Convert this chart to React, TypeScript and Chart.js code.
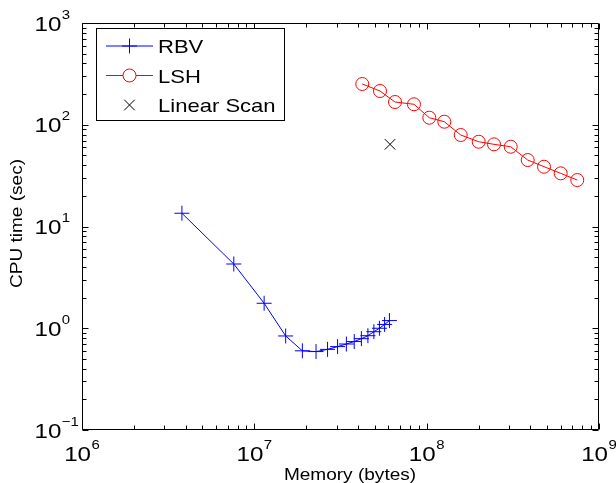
import React, { useEffect, useRef } from "react";
import { Chart, registerables } from "chart.js";

Chart.register(...registerables);

// ---- Data ----
const rbvMemory = [3.8e6, 7.6e6, 1.14e7, 1.52e7, 1.9e7, 2.28e7, 2.66e7, 3.04e7, 3.42e7, 3.8e7, 4.18e7, 4.56e7, 4.94e7, 5.32e7, 5.7e7, 6.08e7];
const rbvTime = [13.5, 4.28, 1.76, 0.84, 0.6, 0.59, 0.62, 0.66, 0.7, 0.74, 0.79, 0.845, 0.925, 1.0, 1.09, 1.19];

const lshMemory = [4.23e7, 5.36e7, 6.55e7, 8.44e7, 1.036e8, 1.266e8, 1.576e8, 2.004e8, 2.459e8, 3.074e8, 3.857e8, 4.797e8, 5.996e8, 7.48e8];
const lshTime = [251.6, 214.6, 167.3, 158.9, 117.3, 107.1, 79.3, 68.1, 64.2, 60.8, 45.0, 38.7, 33.3, 28.6];

const linearMemory = [6.13e7];
const linearTime = [64.2];

const seriesNames = ["RBV", "LSH", "Linear Scan"];
const xTickExponents = ["6", "7", "8", "9"];
const yTickExponents = ["\u22121", "0", "1", "2", "3"];
const xTitle = "Memory (bytes)";
const yTitle = "CPU time (sec)";

const X_MIN = 1e6;
const X_MAX = 1e9;
const Y_MIN = 1e-1;
const Y_MAX = 1e3;

const FONT = '"Liberation Sans", Arial, Helvetica, sans-serif';

function drawText(ctx: CanvasRenderingContext2D, text: string, x: number, y: number, size: number, sx: number, align: CanvasTextAlign = "left") {
  ctx.save();
  ctx.translate(x, y);
  ctx.scale(sx, 1);
  ctx.font = `${size}px ${FONT}`;
  ctx.textAlign = align;
  ctx.textBaseline = "alphabetic";
  ctx.fillStyle = "#000";
  ctx.fillText(text, 0, 0);
  ctx.restore();
}

function measure(ctx: CanvasRenderingContext2D, text: string, size: number, sx: number) {
  ctx.save();
  ctx.font = `${size}px ${FONT}`;
  const w = ctx.measureText(text).width * sx;
  ctx.restore();
  return w;
}

const MAIN_SIZE = 21;
const EXP_SIZE = 13;
const TICK_SX = 1.15;

function drawPower(ctx: CanvasRenderingContext2D, exp: string, leftX: number, baseline: number) {
  const wMain = measure(ctx, "10", MAIN_SIZE, TICK_SX);
  drawText(ctx, "10", leftX, baseline, MAIN_SIZE, TICK_SX);
  drawText(ctx, exp, leftX + wMain + 0.5, baseline - 12, EXP_SIZE, TICK_SX);
}

function powerWidth(ctx: CanvasRenderingContext2D, exp: string) {
  return measure(ctx, "10", MAIN_SIZE, TICK_SX) + 0.5 + measure(ctx, exp, EXP_SIZE, TICK_SX);
}

const matlabAxes = {
  id: "matlabAxes",
  afterDatasetsDraw(chart: any) {
    const { ctx, chartArea, scales } = chart;
    const { left, right, top, bottom } = chartArea;
    const xs = scales.x;
    const ys = scales.y;
    ctx.save();
    ctx.strokeStyle = "#000";
    ctx.lineWidth = 1;
    const L = Math.round(left) + 0.5;
    const R = Math.round(right) - 0.5;
    const T = Math.round(top) + 0.5;
    const B = Math.round(bottom) - 0.5;
    ctx.beginPath();
    ctx.rect(L, T, R - L, B - T);
    ctx.stroke();

    ctx.beginPath();
    // x ticks
    for (let d = 6; d <= 9; d++) {
      for (let m = 1; m <= 9; m++) {
        const v = m * Math.pow(10, d);
        if (v < X_MIN || v > X_MAX) continue;
        if (d === 9 && m > 1) continue;
        const px = Math.round(xs.getPixelForValue(v)) + 0.5;
        const len = m === 1 ? 6 : 4;
        ctx.moveTo(px, B);
        ctx.lineTo(px, B - len);
        ctx.moveTo(px, T);
        ctx.lineTo(px, T + len);
      }
    }
    // y ticks
    for (let d = -1; d <= 3; d++) {
      for (let m = 1; m <= 9; m++) {
        const v = m * Math.pow(10, d);
        if (v < Y_MIN * 0.999 || v > Y_MAX * 1.001) continue;
        if (d === 3 && m > 1) continue;
        const py = Math.round(ys.getPixelForValue(v)) + 0.5;
        const len = m === 1 ? 6 : 4;
        ctx.moveTo(L, py);
        ctx.lineTo(L + len, py);
        ctx.moveTo(R, py);
        ctx.lineTo(R - len, py);
      }
    }
    ctx.stroke();
    ctx.restore();
  },
  afterDraw(chart: any) {
    const { ctx, chartArea, scales } = chart;
    const { left, right, top, bottom } = chartArea;
    const xs = scales.x;
    const ys = scales.y;

    // x tick labels
    xTickExponents.forEach((e) => {
      const v = Math.pow(10, parseInt(e, 10));
      const px = xs.getPixelForValue(v);
      const w = powerWidth(ctx, e);
      drawPower(ctx, e, px - w / 2, 461);
    });
    // y tick labels
    yTickExponents.forEach((e) => {
      const v = Math.pow(10, parseInt(e.replace("\u2212", "-"), 10));
      const py = ys.getPixelForValue(v);
      drawPower(ctx, e, 34.5, py + 7.5);
    });

    // axis titles
    drawText(ctx, xTitle, 350, 480, 17, 1.12, "center");
    ctx.save();
    ctx.translate(22, (top + bottom) / 2 - 3);
    ctx.rotate(-Math.PI / 2);
    drawText(ctx, yTitle, 0, 0, 17, 1.12, "center");
    ctx.restore();

    // legend
    ctx.save();
    const bx = 96.5, by = 28.5, bw = 188, bh = 92;
    ctx.fillStyle = "#fff";
    ctx.fillRect(bx, by, bw, bh);
    ctx.strokeStyle = "#000";
    ctx.lineWidth = 1;
    ctx.strokeRect(bx, by, bw, bh);
    const rows = [46, 75.5, 105];
    const lx0 = 106, lx1 = 153, mx = 129.5, tx = 158;
    // RBV
    ctx.strokeStyle = "#0000ff";
    ctx.beginPath();
    ctx.moveTo(lx0, rows[0]);
    ctx.lineTo(lx1, rows[0]);
    ctx.moveTo(mx - 7.5, rows[0]);
    ctx.lineTo(mx + 7.5, rows[0]);
    ctx.moveTo(mx, rows[0] - 7.5);
    ctx.lineTo(mx, rows[0] + 7.5);
    ctx.stroke();
    // LSH
    ctx.strokeStyle = "#ff0000";
    ctx.beginPath();
    ctx.moveTo(lx0, rows[1]);
    ctx.lineTo(mx - 6.5, rows[1]);
    ctx.moveTo(mx + 6.5, rows[1]);
    ctx.lineTo(lx1, rows[1]);
    ctx.stroke();
    ctx.beginPath();
    ctx.arc(mx, rows[1], 6.5, 0, Math.PI * 2);
    ctx.stroke();
    // Linear scan
    ctx.strokeStyle = "#000";
    ctx.beginPath();
    const k = 5.3;
    ctx.moveTo(mx - k, rows[2] - k);
    ctx.lineTo(mx + k, rows[2] + k);
    ctx.moveTo(mx - k, rows[2] + k);
    ctx.lineTo(mx + k, rows[2] - k);
    ctx.stroke();
    ctx.restore();
    seriesNames.forEach((n, i) => drawText(ctx, n, tx, rows[i] + 7, 19, 1.16));
  },
};

export default function App() {
  const canvasRef = useRef<HTMLCanvasElement | null>(null);

  useEffect(() => {
    if (!canvasRef.current) return;
    const toXY = (xs: number[], ys: number[]) => xs.map((x, i) => ({ x, y: ys[i] }));
    const chart = new Chart(canvasRef.current, {
      type: "scatter",
      data: {
        datasets: [
          {
            label: seriesNames[0],
            data: toXY(rbvMemory, rbvTime),
            showLine: true,
            borderColor: "#0000ff",
            backgroundColor: "#0000ff",
            borderWidth: 1,
            pointStyle: "cross",
            pointRadius: 7.5,
            pointBorderWidth: 1,
            pointBorderColor: "#0000ff",
          },
          {
            label: seriesNames[1],
            data: toXY(lshMemory, lshTime),
            showLine: true,
            borderColor: "#ff0000",
            backgroundColor: "rgba(0,0,0,0)",
            borderWidth: 1,
            pointStyle: "circle",
            pointRadius: 6.5,
            pointBorderWidth: 1,
            pointBorderColor: "#ff0000",
            pointBackgroundColor: "rgba(0,0,0,0)",
          },
          {
            label: seriesNames[2],
            data: toXY(linearMemory, linearTime),
            showLine: false,
            borderColor: "#000",
            backgroundColor: "#000",
            pointStyle: "crossRot",
            pointRadius: 7.5,
            pointBorderWidth: 1,
            pointBorderColor: "#000",
          },
        ],
      },
      options: {
        responsive: false,
        animation: false,
        events: [],
        layout: { padding: { left: 82, top: 23, right: 17, bottom: 53 } },
        plugins: { legend: { display: false }, tooltip: { enabled: false } },
        scales: {
          x: { type: "logarithmic", min: X_MIN, max: X_MAX, display: false },
          y: { type: "logarithmic", min: Y_MIN, max: Y_MAX, display: false },
        },
      },
      plugins: [matlabAxes],
    });
    return () => chart.destroy();
  }, []);

  return (
    <div style={{ position: "absolute", left: 0, top: 0, width: 616, height: 483, background: "#fff" }}>
      <canvas ref={canvasRef} width={616} height={483} style={{ display: "block" }} />
    </div>
  );
}
